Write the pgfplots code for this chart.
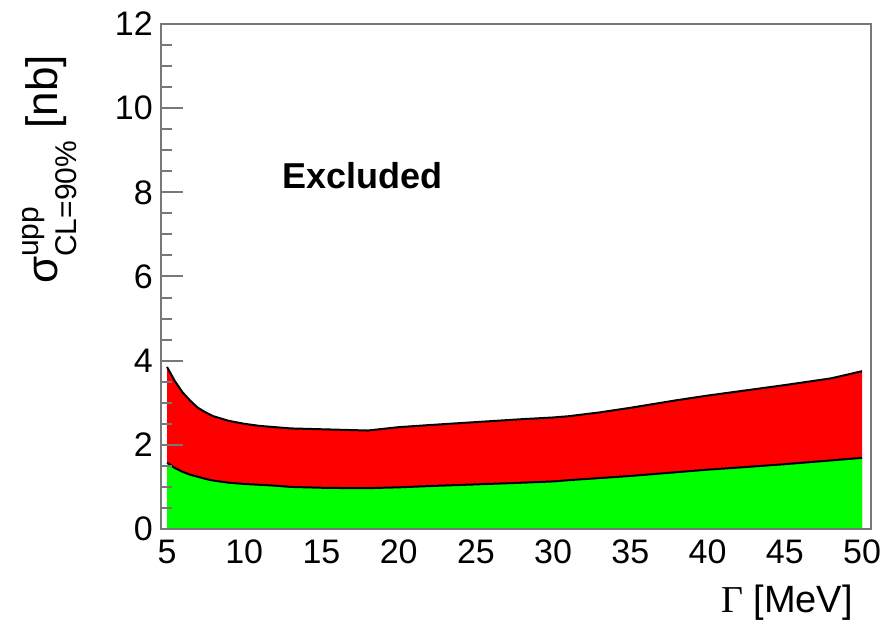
\documentclass[border=0pt]{standalone}
\usepackage{pgfplots}
\pgfplotsset{compat=1.18}
\usepackage{fontspec}
\setmainfont{Liberation Sans}
\newfontfamily\greekserif{Liberation Serif}
\definecolor{framegray}{RGB}{120,120,120}
\definecolor{bandred}{RGB}{255,0,0}
\definecolor{bandgreen}{RGB}{0,255,0}

% upper limit bands vs. width Gamma [MeV]
\pgfplotstableread{
x     upper  lower
5     3.85   1.58
5.5   3.52   1.45
6     3.25   1.36
6.5   3.05   1.29
7     2.88   1.24
7.5   2.77   1.19
8     2.68   1.15
9     2.57   1.10
10    2.50   1.07
11    2.45   1.05
12    2.42   1.03
13    2.39   1.00
15    2.37   0.98
17    2.35   0.97
18    2.34   0.97
19    2.38   0.98
20    2.42   0.99
22    2.47   1.02
25    2.54   1.06
28    2.61   1.10
30    2.65   1.13
31    2.68   1.16
33    2.77   1.21
35    2.88   1.26
38    3.06   1.35
40    3.17   1.41
42    3.27   1.46
45    3.42   1.54
48    3.58   1.63
50    3.75   1.69
}\limits

\begin{document}
\begin{tikzpicture}
\begin{axis}[
  scale only axis,
  width=710pt, height=505pt,
  xmin=4.61, xmax=50.58,
  ymin=0, ymax=12,
  xtick={5,10,...,50},
  ytick={0,2,...,12},
  minor y tick num=3,
  axis on top,
  tick align=inside,
  xtick pos=bottom, ytick pos=left,
  major tick length=22pt, minor tick length=11pt,
  xtick style={draw=none},
  ytick style={framegray, line width=2pt},
  axis line style={framegray, line width=2pt},
  /pgf/number format/assume math mode=true,
  tick label style={font=\fontsize{34}{34}\selectfont, inner sep=0pt},
  xticklabel style={yshift=-11pt},
  yticklabel style={xshift=-8pt},
  xlabel={{\greekserif Γ} [MeV]},
  xlabel style={at={(rel axis cs:0.9747,-0.1644)}, anchor=base east,
    inner sep=0pt, font=\fontsize{38}{38}\selectfont},
  ylabel={σ\makebox[0pt][l]{\raisebox{19pt}{\fontsize{30}{30}\selectfont upp}}\raisebox{-19pt}{\fontsize{30}{30}\selectfont CL=90\%} [nb]},
  ylabel style={at={(rel axis cs:-0.1451,0.9386)}, anchor=base east,
    rotate=0, inner sep=0pt, font=\fontsize{44}{44}\selectfont},
]
  \addplot[fill=bandred, draw=none] table[x=x, y=upper] {\limits} \closedcycle;
  \addplot[fill=bandgreen, draw=none] table[x=x, y=lower] {\limits} \closedcycle;
  \addplot[black, line width=2pt] table[x=x, y=upper] {\limits};
  \addplot[black, line width=2pt] table[x=x, y=lower] {\limits};
  \node[anchor=base, inner sep=0pt, font=\fontsize{36}{36}\selectfont\bfseries]
    at (axis cs:17.63,8.10) {Excluded};
\end{axis}
\pgfresetboundingbox
\useasboundingbox ([shift={(-161pt,-96pt)}]current axis.south west)
  rectangle ([shift={(23pt,24pt)}]current axis.north east);
\end{tikzpicture}
\end{document}
